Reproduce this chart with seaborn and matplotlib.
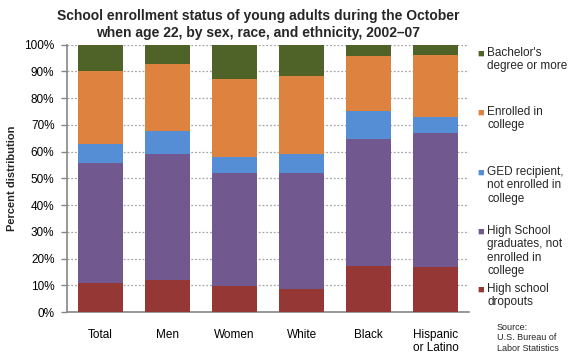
import matplotlib
matplotlib.use("Agg")
import matplotlib.pyplot as plt
import seaborn as sns
import pandas as pd
import numpy as np

# data (percent distribution)
groups = ["Total", "Men", "Women", "White", "Black", "Hispanic\nor Latino"]
dropouts = [10.8, 12.0, 9.7, 8.6, 17.2, 16.8]
hs_grads = [44.9, 47.1, 42.3, 43.4, 47.5, 50.2]
ged = [7.1, 8.6, 6.0, 7.1, 10.5, 5.9]
enrolled = [27.3, 25.1, 29.2, 29.2, 20.6, 23.2]
bachelors = [9.9, 7.2, 12.8, 11.7, 4.2, 3.9]

series = ["High school\ndropouts", "High School\ngraduates, not\nenrolled in\ncollege",
          "GED recipient,\nnot enrolled in\ncollege", "Enrolled in\ncollege",
          "Bachelor's\ndegree or more"]
colors = ["#953735", "#71588F", "#558ED5", "#DD833F", "#4F6228"]

sns.set_theme(style="white")
plt.rcParams["font.family"] = ["Liberation Sans", "DejaVu Sans"]

df = pd.DataFrame({"group": groups})
values = np.array([dropouts, hs_grads, ged, enrolled, bachelors])
cum = values.cumsum(axis=0)

fig = plt.figure(figsize=(5.8, 3.6), dpi=100)
ax = fig.add_axes([0.1155, 0.1333, 0.6935, 0.743])

# draw stacks from the top down so lower segments overlay higher ones
for i in range(len(series) - 1, -1, -1):
    df["top"] = cum[i]
    sns.barplot(data=df, x="group", y="top", color=colors[i], width=0.67,
                saturation=1, ax=ax, zorder=3, edgecolor="none")

ax.set_xlim(-0.5, 5.5)
ax.set_ylim(0, 100)
ax.set_yticks(np.arange(0, 101, 10))
ax.set_yticklabels([f"{v}%" for v in range(0, 101, 10)], fontsize=8.5, color="#000000")
ax.yaxis.grid(True, linestyle=(0, (1.5, 1.5)), color="#A6A6A6", linewidth=0.9, zorder=0)
ax.set_axisbelow(True)

ax.set_xticks(range(len(groups)))
ax.set_xticklabels(groups, fontsize=8.5, color="#000000", linespacing=1.2)
ax.set_xticks(np.arange(-0.5, 6, 1), minor=True)
ax.tick_params(axis="x", which="major", length=0, pad=12)
ax.tick_params(axis="x", which="minor", length=4, width=1, color="#868686", direction="inout")
ax.tick_params(axis="y", which="major", length=4, width=1, color="#868686", left=True, pad=5)

for side in ["top", "right"]:
    ax.spines[side].set_visible(False)
for side in ["left", "bottom"]:
    ax.spines[side].set_color("#868686")
    ax.spines[side].set_linewidth(1.2)

ax.set_xlabel("")
ax.set_ylabel("Percent distribution", fontsize=8, fontweight="bold", labelpad=5)

fig.text(0.445, 0.975, "School enrollment status of young adults during the October\n"
         "when age 22, by sex, race, and ethnicity, 2002\u201307",
         ha="center", va="top", fontsize=10, fontweight="bold", linespacing=1.25)

# legend drawn by hand to match the spread-out layout
leg_y = [54, 113, 173, 232, 290]
for lab, col, y in zip(series[::-1], colors[::-1], leg_y):
    yf = 1 - y / 360
    fig.text(481 / 580, yf, "\u25A0", color=col, fontsize=8, ha="center", va="center")
    fig.text(487 / 580, yf + 7 / 360, lab, fontsize=8.5, ha="left", va="top", linespacing=1.15)

fig.text(497 / 580, 1 - 323 / 360, "Source:\nU.S. Bureau of\nLabor Statistics",
         fontsize=6.5, ha="left", va="top", linespacing=1.2)

fig.savefig("out.png", dpi=100)
